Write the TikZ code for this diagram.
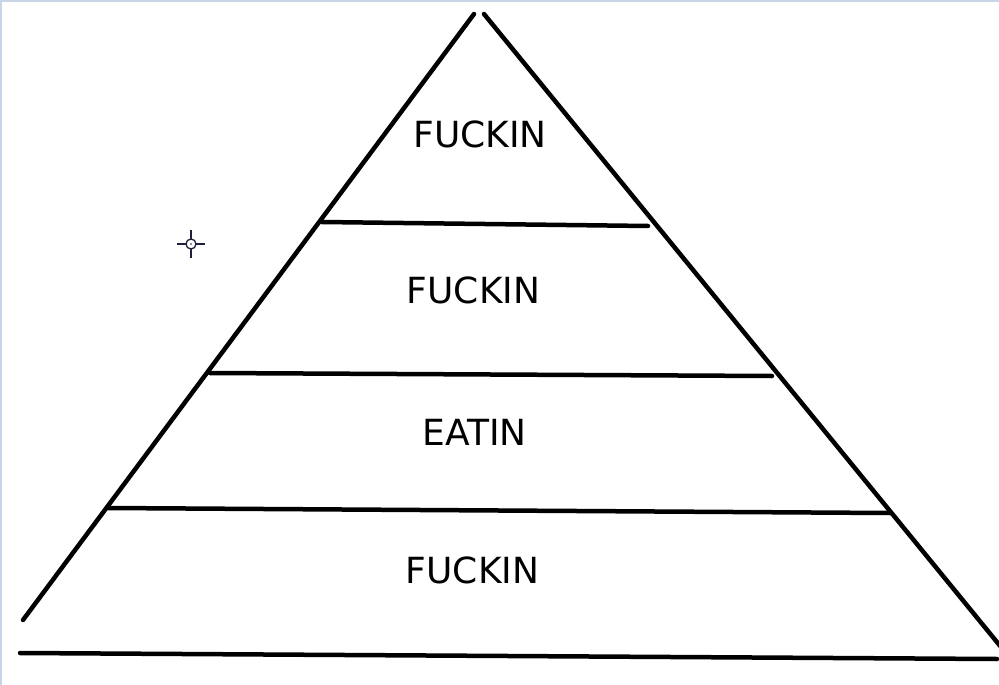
\documentclass[tikz,border=0pt]{standalone}
\usepackage{fontspec}
\newfontfamily\labfont{DejaVu Sans}
\definecolor{edgeblue}{RGB}{200,212,232}
\definecolor{cursorcol}{RGB}{30,32,60}
\begin{document}
\begin{tikzpicture}[x=1pt,y=-1pt,
  stroke/.style={line width=4.5pt,line cap=round},
  lab/.style={font=\labfont\fontsize{36}{42}\selectfont,inner sep=0pt,anchor=center}]
\useasboundingbox (0,0) rectangle (999,685);
\fill[white] (0,0) rectangle (999,685);
\draw[edgeblue,line width=2pt] (1,685) -- (1,1) -- (999,1);
% coordinates
\coordinate (apexL) at (474,14);
\coordinate (apexR) at (484,14);
\coordinate (baseL) at (23,620);
\coordinate (baseR) at (1001,647);
\coordinate (l1a) at (322,222); \coordinate (l1b) at (648,226);
\coordinate (l2a) at (210,373); \coordinate (l2b) at (772,376);
\coordinate (l3a) at (108,508); \coordinate (l3b) at (890,513);
\coordinate (bota) at (20,653); \coordinate (botb) at (997,659);
\draw[stroke] (apexL) -- (baseL);
\draw[stroke] (apexR) -- (baseR);
\draw[stroke] (l1a) -- (l1b);
\draw[stroke] (l2a) -- (l2b);
\draw[stroke] (l3a) -- (l3b);
\draw[stroke] (bota) -- (botb);
% labels
\node[lab] (t1) at (480,134) {FUCKIN};
\node[lab] (t2) at (473.5,290) {FUCKIN};
\node[lab] (t3) at (474.5,432) {EATIN};
\node[lab] (t4) at (472.5,570) {FUCKIN};
% cursor
\begin{scope}[cursorcol,line width=1.3pt]
\draw (191,244) circle (5);
\fill (191,244) circle (0.9);
\draw (177,244) -- (186,244);
\draw (196,244) -- (205,244);
\draw (191,230) -- (191,239);
\draw (191,249) -- (191,258);
\end{scope}
\end{tikzpicture}
\end{document}
